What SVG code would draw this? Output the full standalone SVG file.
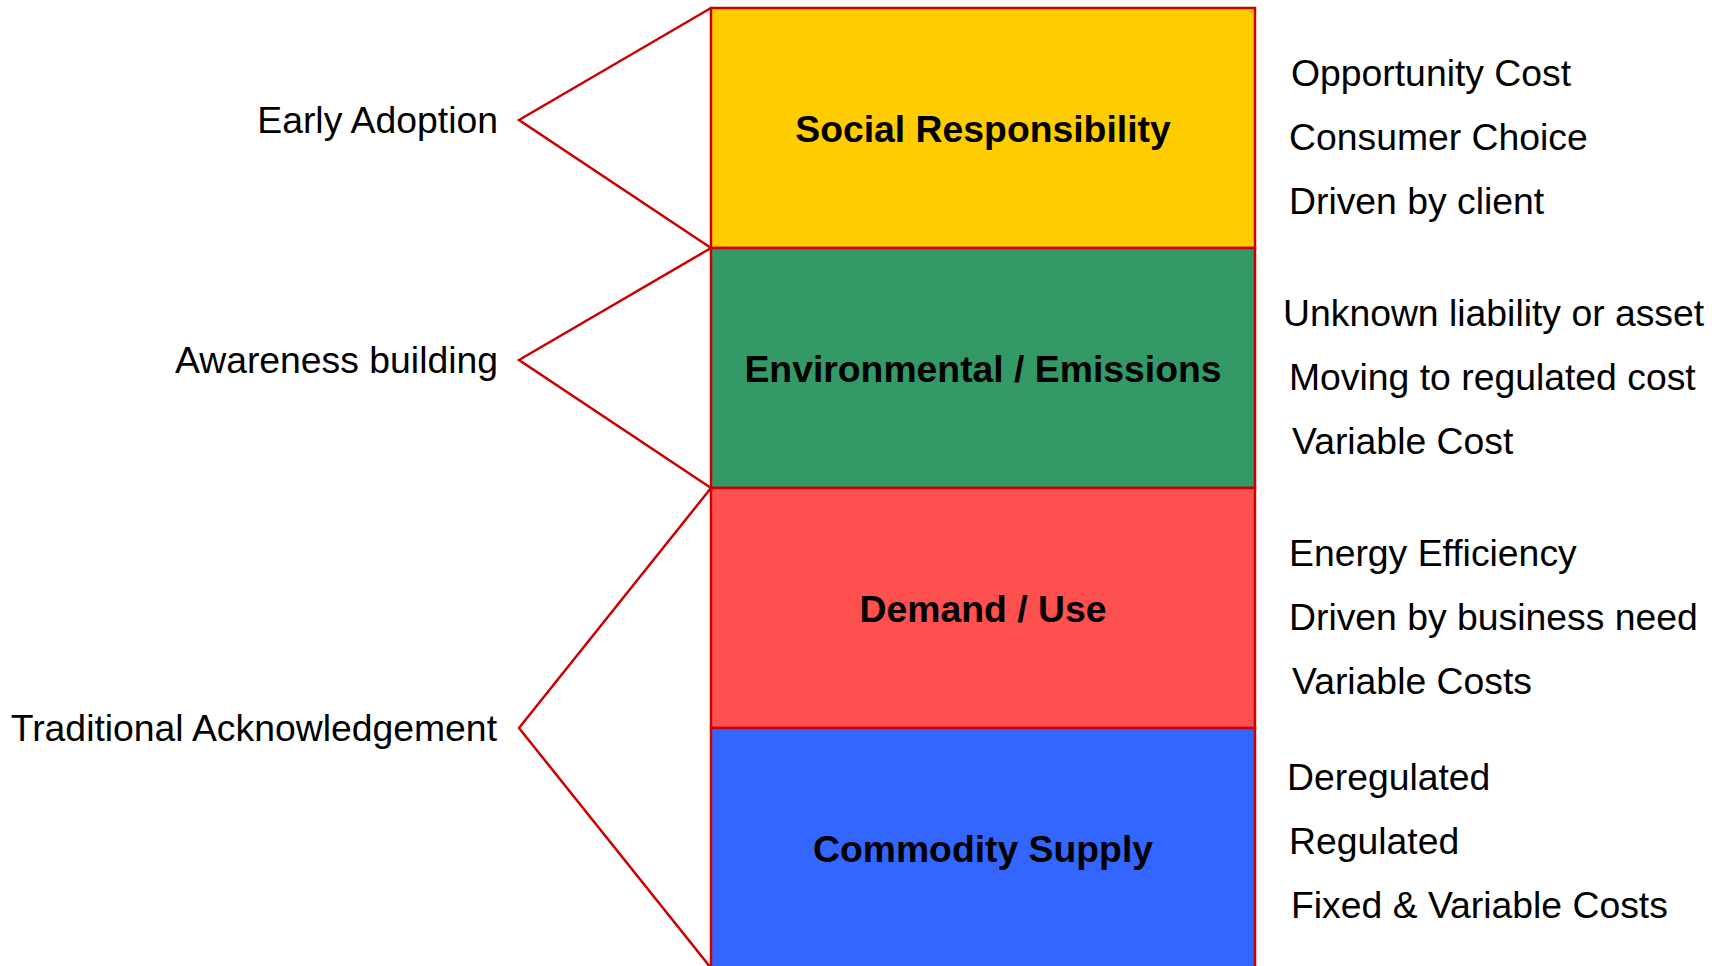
<svg xmlns="http://www.w3.org/2000/svg" width="1716" height="966" viewBox="0 0 1716 966">
<style>
.box{stroke:#CC0000;stroke-width:2.5}
.title{font-family:"Liberation Sans",Arial,sans-serif;font-size:37.33px;font-weight:bold;fill:#000;text-anchor:middle}
.lbl{font-family:"Liberation Sans",Arial,sans-serif;font-size:37.33px;fill:#000}
.left{text-anchor:end}
.brace{fill:none;stroke:#CC0000;stroke-width:2.5;stroke-linejoin:miter}
</style>
<rect width="1716" height="966" fill="#fff"/>
<g id="connectors">
<polyline class="brace" points="711,8 519,120 711,248"/>
<polyline class="brace" points="711,248 519,360 711,488"/>
<polyline class="brace" points="711,488 519,728 711,968"/>
</g>
<g id="social">
<rect class="box" x="711" y="8" width="544" height="240" fill="#FFCC00"/>
<text class="title" x="983" y="142">Social Responsibility</text>
</g>
<g id="environmental">
<rect class="box" x="711" y="248" width="544" height="240" fill="#339966"/>
<text class="title" x="983" y="382">Environmental / Emissions</text>
</g>
<g id="demand">
<rect class="box" x="711" y="488" width="544" height="240" fill="#FF5050"/>
<text class="title" x="983" y="622">Demand / Use</text>
</g>
<g id="commodity">
<rect class="box" x="711" y="728" width="544" height="250" fill="#3366FF"/>
<text class="title" x="983" y="862">Commodity Supply</text>
</g>
<g id="early-adoption"><text class="lbl left" x="498" y="133">Early Adoption</text></g>
<g id="awareness-building"><text class="lbl left" x="498" y="373">Awareness building</text></g>
<g id="traditional"><text class="lbl left" x="497" y="741">Traditional Acknowledgement</text></g>
<g id="social-notes">
<text class="lbl" x="1291" y="86">Opportunity Cost</text>
<text class="lbl" x="1289" y="150">Consumer Choice</text>
<text class="lbl" x="1289" y="214">Driven by client</text>
</g>
<g id="environmental-notes">
<text class="lbl" x="1283" y="326">Unknown liability or asset</text>
<text class="lbl" x="1289" y="390">Moving to regulated cost</text>
<text class="lbl" x="1292" y="454">Variable Cost</text>
</g>
<g id="demand-notes">
<text class="lbl" x="1289" y="566">Energy Efficiency</text>
<text class="lbl" x="1289" y="630">Driven by business need</text>
<text class="lbl" x="1292" y="694">Variable Costs</text>
</g>
<g id="commodity-notes">
<text class="lbl" x="1287" y="790">Deregulated</text>
<text class="lbl" x="1289" y="854">Regulated</text>
<text class="lbl" x="1291" y="918">Fixed &amp; Variable Costs</text>
</g>
</svg>
